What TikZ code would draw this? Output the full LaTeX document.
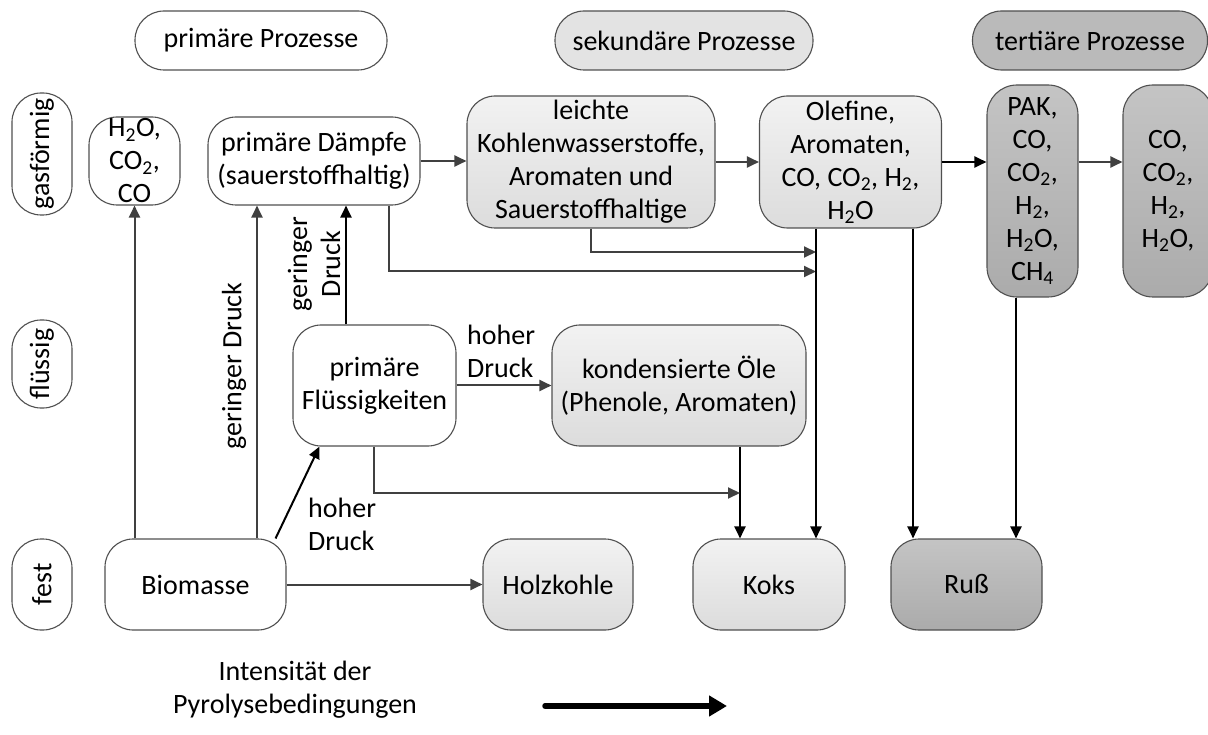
\documentclass[tikz,border=0pt]{standalone}
\usepackage{fontspec}
\setmainfont{Carlito}
\usetikzlibrary{positioning,calc,arrows.meta}

\definecolor{linegray}{HTML}{404040}
\definecolor{boxgray}{HTML}{505050}
\definecolor{sekTop}{HTML}{F2F2F2}
\definecolor{sekBot}{HTML}{DCDCDC}
\definecolor{terTop}{HTML}{C4C4C4}
\definecolor{terBot}{HTML}{ABABAB}

\begin{document}
\begin{tikzpicture}[x=1pt,y=-1pt,
		font=\fontsize{28}{33}\selectfont,
		box/.style={draw=boxgray, line width=1.1pt, rounded corners=28pt, align=center, inner sep=0pt, fill=white},
		sekbox/.style={box, top color=sekTop, bottom color=sekBot},
		terbox/.style={box, top color=terTop, bottom color=terBot},
		rowbox/.style={box, rotate=90, rounded corners=29pt, minimum height=60pt},
		flow/.style={draw=linegray, line width=2pt, -{Triangle[length=12pt,width=11pt]}},
		flowk/.style={flow, draw=black},
		lbl/.style={inner sep=0pt, align=left}]
		\useasboundingbox (0,0) rectangle (1208,735);
		% Kopfzeile
		\node[box, rounded corners=29pt, minimum width=252pt, minimum height=59pt] (prim) at (261,40.5) {primäre Prozesse};
		\node[box, rounded corners=29pt, minimum width=258pt, minimum height=59pt, fill=sekBot!80!white] (sek) at (684,40.5) {sekundäre Prozesse};
		\node[box, rounded corners=29pt, minimum width=235pt, minimum height=59pt, fill=terTop!95!black] (tert) at (1090,40.5) {tertiäre Prozesse};
		% Aggregatzustaende
		\node[rowbox, minimum width=122pt] (gas) at (42,154) {gasförmig};
		\node[rowbox, minimum width=88pt] (fluessig) at (42,364) {flüssig};
		\node[rowbox, minimum width=91pt] (fest) at (42,584.5) {fest};
		% Knoten
		\node[box, minimum width=91pt, minimum height=88pt] (hzo) at (134.5,161) {H\textsubscript{2}O,\\CO\textsubscript{2},\\CO};
		\node[box, minimum width=212pt, minimum height=88pt] (daempfe) at (314,161) {primäre Dämpfe\\(sauerstoffhaltig)};
		\node[sekbox, minimum width=248pt, minimum height=132pt] (leicht) at (591,162) {leichte\\Kohlenwasserstoffe,\\Aromaten und\\Sauerstoffhaltige};
		\node[sekbox, minimum width=182pt, minimum height=132pt] (olef) at (850.5,162) {Olefine,\\Aromaten,\\CO, CO\textsubscript{2}, H\textsubscript{2},\\H\textsubscript{2}O};
		\node[terbox, rounded corners=30pt, minimum width=91pt, minimum height=212pt] (pak) at (1032.5,191) {PAK,\\CO,\\CO\textsubscript{2},\\H\textsubscript{2},\\H\textsubscript{2}O,\\CH\textsubscript{4}};
		\node[terbox, rounded corners=30pt, minimum width=90pt, minimum height=212pt] (cotert) at (1168,191) {CO,\\CO\textsubscript{2},\\H\textsubscript{2},\\H\textsubscript{2}O,};
		\node[box, minimum width=163pt, minimum height=121pt] (pfl) at (374.5,385.5) {primäre\\Flüssigkeiten};
		\node[sekbox, minimum width=254pt, minimum height=121pt] (oele) at (679,385.5) {kondensierte Öle\\(Phenole, Aromaten)};
		\node[box, minimum width=181pt, minimum height=91pt] (bio) at (195.5,584.5) {Biomasse};
		\node[sekbox, minimum width=150pt, minimum height=91pt] (holz) at (558,584.5) {Holzkohle};
		\node[sekbox, minimum width=152pt, minimum height=91pt] (koks) at (769,584.5) {Koks};
		\node[terbox, minimum width=151pt, minimum height=91pt] (russ) at (966.5,584.5) {Ruß};
		% Hilfspunkte
		\coordinate (dd) at ([xshift=75pt]daempfe.south);
		\coordinate (ld) at (leicht.south);
		\coordinate (ok) at ([xshift=-34.5pt]olef.south);
		\coordinate (or) at ([xshift=62.5pt]olef.south);
		\coordinate (pr) at ([xshift=-16.5pt]pak.south);
		\coordinate (ed) at ([xshift=61pt]oele.south);
		\coordinate (fd) at ([xshift=-0.5pt]pfl.south);
		\coordinate (ya) at (0,252);
		\coordinate (yb) at (0,271.5);
		\coordinate (yc) at (0,493);
		% Pfeile
		\draw[flow] (bio.north -| hzo.south) -- (hzo.south);
		\draw[flow] ([xshift=-57pt]daempfe.south |- bio.north) -- ([xshift=-57pt]daempfe.south);
		\node[lbl, rotate=90] (gdl) at (234,366) {geringer Druck};
		\draw[flowk] ([xshift=-28.5pt]pfl.north) -- ([xshift=-28.5pt]pfl.north |- daempfe.south);
		\node[lbl, align=center, rotate=90] (gds) at (314,264) {geringer\\Druck};
		\draw[flowk] ([xshift=-11pt]bio.north east) -- ([xshift=27pt]pfl.south west);
		\node[lbl, anchor=west] (hdb) at (308,524) {hoher\\Druck};
		\draw[flow] (pfl.east) -- (oele.west);
		\node[lbl, anchor=west] (hdf) at (467,351) {hoher\\Druck};
		\draw[flow] (bio.east) -- (holz.west);
		\draw[flow] (daempfe.east) -- (daempfe.east -| leicht.west);
		\draw[flow] (leicht.east) -- (olef.west);
		\draw[flowk] (olef.east) -- (olef.east -| pak.west);
		\draw[flow] (olef.east -| pak.east) -- (olef.east -| cotert.west);
		\draw[flow] (dd) |- (ok |- yb);
		\draw[flow] (ld) |- (ok |- ya);
		\draw[flowk] (ok) -- (ok |- koks.north);
		\draw[flowk] (or) -- (or |- russ.north);
		\draw[flowk] (pr) -- (pr |- russ.north);
		\draw[flowk] (ed) -- (ed |- koks.north);
		\draw[flow] (fd) |- (ed |- yc);
		% Intensitaet
		\node[align=center] (intens) at (295,690) {Intensität der\\Pyrolysebedingungen};
		\coordinate (inta) at (545,706);
		\coordinate (intb) at (727,706);
		\draw[line width=5.5pt, line cap=round, -{Triangle[length=18pt,width=20pt]}] (inta) -- (intb);
	\end{tikzpicture}
\end{document}
